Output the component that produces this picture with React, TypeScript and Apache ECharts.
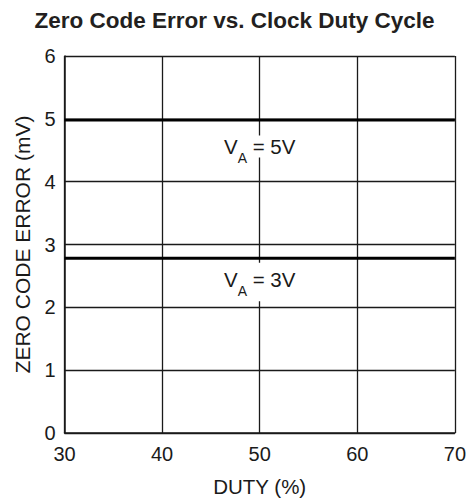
import React, { useEffect, useRef } from "react";
import * as echarts from "echarts";

const chartTitle = "Zero Code Error vs. Clock Duty Cycle";
const xAxisName = "DUTY (%)";
const yAxisName = "ZERO CODE ERROR (mV)";
const duty = [30, 70];
const errVA5 = [4.98, 4.98];
const errVA3 = [2.78, 2.78];
const seriesNames = ["5V", "3V"];
const labelDuty = 50;

const FONT = "'Liberation Sans', Arial, Helvetica, sans-serif";
const INK = "#1a1a1a";

function makeLabel(name: string, distance: number, padding: number[]) {
  return {
    show: true,
    position: "bottom",
    distance,
    backgroundColor: "#ffffff",
    padding,
    formatter: `{v|V}{s|A}{v| = ${name}}`,
    rich: {
      v: { fontFamily: FONT, fontSize: 20.5, lineHeight: 22, color: INK, verticalAlign: "top" },
      s: { fontFamily: FONT, fontSize: 14, lineHeight: 14, color: INK, verticalAlign: "top", padding: [15, 0, 0, 0] },
    },
  };
}

export default function App() {
  const ref = useRef<HTMLDivElement>(null);
  useEffect(() => {
    document.body.style.margin = "0";
    if (!ref.current) return;
    const chart = echarts.init(ref.current, null, { renderer: "svg" });
    chart.setOption({
      animation: false,
      backgroundColor: "#ffffff",
      title: {
        text: chartTitle,
        left: "center",
        top: 4,
        textStyle: { fontFamily: FONT, fontSize: 22.5, fontWeight: "bold", color: "#231f20" },
      },
      grid: { left: 64.5, right: 12, top: 56, bottom: 68, containLabel: false },
      xAxis: {
        type: "value",
        min: 30,
        max: 70,
        interval: 10,
        name: xAxisName,
        nameLocation: "middle",
        nameGap: 43,
        nameTextStyle: { fontFamily: FONT, fontSize: 20.5, color: INK },
        axisLine: { show: true, lineStyle: { color: INK, width: 1.5 } },
        axisTick: { show: false },
        axisLabel: { fontFamily: FONT, fontSize: 20, color: INK, margin: 11 },
        splitLine: { show: true, lineStyle: { color: INK, width: 1.3 } },
      },
      yAxis: {
        type: "value",
        min: 0,
        max: 6,
        interval: 1,
        name: yAxisName,
        nameLocation: "middle",
        nameGap: 30,
        nameTextStyle: { fontFamily: FONT, fontSize: 21, color: INK },
        axisLine: { show: true, lineStyle: { color: INK, width: 1.5 } },
        axisTick: { show: false },
        axisLabel: { fontFamily: FONT, fontSize: 20, color: INK, margin: 9 },
        splitLine: { show: true, lineStyle: { color: INK, width: 1.3 } },
      },
      series: [
        {
          type: "line",
          name: seriesNames[0],
          data: duty.map((x, i) => [x, errVA5[i]]),
          symbol: "none",
          lineStyle: { color: "#000", width: 3 },
          z: 5,
        },
        {
          type: "line",
          name: seriesNames[1],
          data: duty.map((x, i) => [x, errVA3[i]]),
          symbol: "none",
          lineStyle: { color: "#000", width: 3 },
          z: 5,
        },
        {
          type: "scatter",
          name: "labels",
          symbol: "circle",
          symbolSize: 1,
          itemStyle: { color: "rgba(0,0,0,0)", opacity: 1 },
          silent: true,
          z: 4,
          data: [
            { value: [labelDuty, errVA5[0]], label: makeLabel(seriesNames[0], 15, [0, 3, 0, 3]) },
            { value: [labelDuty, errVA3[0]], label: makeLabel(seriesNames[1], 4, [6.5, 3, 10, 3]) },
          ],
        },
      ],
    });
    return () => chart.dispose();
  }, []);
  return <div ref={ref} style={{ width: 469, height: 502 }} />;
}
